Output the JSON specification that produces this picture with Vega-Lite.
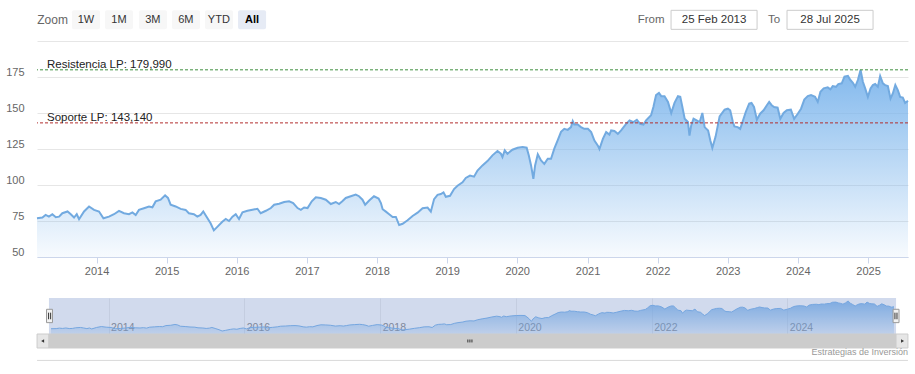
{
"$schema": "https://vega.github.io/schema/vega-lite/v6.json",
"padding": {"left": 5, "top": 9, "right": 8, "bottom": 0},
"background": "white",
"bounds": "flush",
"spacing": 41,
"resolve": {"scale": {"x": "independent", "y": "independent"}},
"config": {"view": {"stroke": null}, "font": "Liberation Sans"},
"datasets": {"prices": [
{"date":"2013-02-25","close":76.9},{"date":"2013-03-25","close":77.4},{"date":"2013-04-11","close":79.2},{"date":"2013-04-28","close":78.0},{"date":"2013-05-16","close":79.7},{"date":"2013-06-03","close":77.6},{"date":"2013-06-20","close":78.0},{"date":"2013-07-07","close":80.4},{"date":"2013-08-03","close":81.6},{"date":"2013-08-20","close":79.7},{"date":"2013-09-06","close":77.4},{"date":"2013-09-20","close":79.7},{"date":"2013-10-02","close":76.2},{"date":"2013-10-28","close":81.6},{"date":"2013-11-23","close":85.1},{"date":"2013-12-19","close":82.7},
{"date":"2014-01-14","close":81.6},{"date":"2014-02-06","close":76.9},{"date":"2014-03-07","close":78.0},{"date":"2014-04-02","close":79.7},{"date":"2014-04-28","close":82.0},{"date":"2014-05-24","close":80.4},{"date":"2014-06-19","close":79.7},{"date":"2014-07-07","close":81.0},{"date":"2014-07-24","close":79.2},{"date":"2014-08-10","close":82.7},{"date":"2014-09-05","close":83.9},{"date":"2014-10-01","close":85.1},{"date":"2014-10-19","close":84.5},{"date":"2014-11-05","close":88.6},{"date":"2014-12-01","close":89.8},{"date":"2014-12-24","close":92.8},
{"date":"2015-01-08","close":91.0},{"date":"2015-01-22","close":86.3},{"date":"2015-02-17","close":85.1},{"date":"2015-03-15","close":83.4},{"date":"2015-04-10","close":82.7},{"date":"2015-04-27","close":80.4},{"date":"2015-05-23","close":79.7},{"date":"2015-06-10","close":78.0},{"date":"2015-06-27","close":79.2},{"date":"2015-07-11","close":81.6},{"date":"2015-07-28","close":78.0},{"date":"2015-08-18","close":73.4},{"date":"2015-09-04","close":68.5},{"date":"2015-09-22","close":70.9},{"date":"2015-10-18","close":74.5},{"date":"2015-11-05","close":76.4},{"date":"2015-11-22","close":75.0},{"date":"2015-12-10","close":78.0},{"date":"2015-12-27","close":79.7},
{"date":"2016-01-13","close":76.4},{"date":"2016-01-31","close":81.1},{"date":"2016-02-26","close":82.1},{"date":"2016-03-23","close":82.8},{"date":"2016-04-18","close":83.5},{"date":"2016-05-05","close":80.4},{"date":"2016-06-01","close":82.1},{"date":"2016-06-27","close":84.0},{"date":"2016-07-14","close":86.3},{"date":"2016-08-09","close":87.0},{"date":"2016-09-04","close":88.2},{"date":"2016-09-30","close":88.7},{"date":"2016-10-21","close":87.5},{"date":"2016-11-13","close":84.0},{"date":"2016-11-30","close":82.8},{"date":"2016-12-17","close":84.4},
{"date":"2017-01-04","close":84.0},{"date":"2017-01-26","close":88.7},{"date":"2017-02-16","close":91.5},{"date":"2017-03-14","close":91.0},{"date":"2017-04-09","close":89.8},{"date":"2017-05-05","close":86.8},{"date":"2017-05-31","close":88.2},{"date":"2017-06-17","close":86.8},{"date":"2017-07-04","close":88.7},{"date":"2017-07-22","close":91.0},{"date":"2017-08-17","close":92.2},{"date":"2017-09-12","close":93.4},{"date":"2017-09-29","close":92.2},{"date":"2017-10-17","close":89.8},{"date":"2017-10-31","close":86.3},{"date":"2017-11-21","close":89.2},{"date":"2017-12-16","close":92.2},
{"date":"2018-01-09","close":90.6},{"date":"2018-01-21","close":87.5},{"date":"2018-01-30","close":83.2},{"date":"2018-02-16","close":81.5},{"date":"2018-03-05","close":79.7},{"date":"2018-03-23","close":77.8},{"date":"2018-04-09","close":77.8},{"date":"2018-04-26","close":72.2},{"date":"2018-05-14","close":73.1},{"date":"2018-06-09","close":75.5},{"date":"2018-07-05","close":78.5},{"date":"2018-07-31","close":80.8},{"date":"2018-08-26","close":83.9},{"date":"2018-09-21","close":84.3},{"date":"2018-10-08","close":81.5},{"date":"2018-10-25","close":90.2},{"date":"2018-11-12","close":93.2},{"date":"2018-11-29","close":93.7},{"date":"2018-12-13","close":94.9},{"date":"2018-12-25","close":91.8},
{"date":"2019-01-16","close":92.5},{"date":"2019-02-06","close":97.2},{"date":"2019-02-24","close":99.5},{"date":"2019-03-22","close":101.9},{"date":"2019-04-08","close":104.9},{"date":"2019-04-30","close":106.5},{"date":"2019-05-21","close":105.8},{"date":"2019-06-08","close":110.0},{"date":"2019-07-04","close":113.6},{"date":"2019-07-30","close":116.6},{"date":"2019-08-25","close":120.6},{"date":"2019-09-20","close":123.6},{"date":"2019-10-08","close":121.7},{"date":"2019-10-16","close":119.4},{"date":"2019-10-28","close":124.1},{"date":"2019-11-11","close":121.7},{"date":"2019-12-07","close":124.5},
{"date":"2020-01-03","close":125.9},{"date":"2020-01-29","close":126.4},{"date":"2020-02-19","close":125.9},{"date":"2020-03-01","close":120.6},{"date":"2020-03-13","close":113.6},{"date":"2020-03-25","close":104.2},{"date":"2020-04-03","close":113.6},{"date":"2020-04-17","close":121.3},{"date":"2020-05-04","close":117.1},{"date":"2020-05-21","close":114.7},{"date":"2020-06-08","close":118.2},{"date":"2020-06-25","close":118.2},{"date":"2020-07-12","close":125.2},{"date":"2020-07-30","close":131.1},{"date":"2020-08-16","close":136.9},{"date":"2020-09-02","close":139.0},{"date":"2020-09-20","close":138.3},{"date":"2020-10-07","close":140.2},{"date":"2020-10-16","close":144.4},{"date":"2020-10-24","close":142.0},{"date":"2020-11-11","close":142.0},{"date":"2020-11-28","close":140.2},{"date":"2020-12-15","close":139.0},
{"date":"2021-01-03","close":139.0},{"date":"2021-01-20","close":136.7},{"date":"2021-02-06","close":130.8},{"date":"2021-02-24","close":127.3},{"date":"2021-03-04","close":125.0},{"date":"2021-03-22","close":132.0},{"date":"2021-04-08","close":136.7},{"date":"2021-04-25","close":135.0},{"date":"2021-05-04","close":137.9},{"date":"2021-05-21","close":137.5},{"date":"2021-06-08","close":135.5},{"date":"2021-06-25","close":137.9},{"date":"2021-07-21","close":142.5},{"date":"2021-08-08","close":144.9},{"date":"2021-08-28","close":143.7},{"date":"2021-09-15","close":145.3},{"date":"2021-10-02","close":142.5},{"date":"2021-10-19","close":142.0},{"date":"2021-11-02","close":144.9},{"date":"2021-11-28","close":148.4},{"date":"2021-12-10","close":154.2},{"date":"2021-12-24","close":162.4},
{"date":"2022-01-08","close":164.0},{"date":"2022-01-20","close":161.7},{"date":"2022-02-06","close":161.7},{"date":"2022-02-24","close":157.7},{"date":"2022-03-13","close":150.0},{"date":"2022-03-30","close":157.0},{"date":"2022-04-17","close":161.7},{"date":"2022-04-29","close":161.2},{"date":"2022-05-10","close":154.2},{"date":"2022-05-22","close":146.0},{"date":"2022-06-08","close":143.7},{"date":"2022-06-16","close":134.3},{"date":"2022-06-25","close":141.4},{"date":"2022-07-07","close":146.0},{"date":"2022-07-21","close":145.0},{"date":"2022-08-08","close":143.7},{"date":"2022-08-22","close":150.0},{"date":"2022-09-03","close":140.2},{"date":"2022-09-21","close":137.9},{"date":"2022-10-03","close":130.8},{"date":"2022-10-13","close":125.7},{"date":"2022-10-30","close":133.6},{"date":"2022-11-20","close":147.7},{"date":"2022-12-16","close":152.3},
{"date":"2023-01-02","close":153.0},{"date":"2023-01-14","close":151.9},{"date":"2023-01-28","close":143.7},{"date":"2023-02-05","close":140.7},{"date":"2023-02-22","close":140.2},{"date":"2023-03-07","close":139.0},{"date":"2023-03-19","close":143.7},{"date":"2023-04-05","close":150.7},{"date":"2023-04-23","close":156.5},{"date":"2023-05-05","close":157.0},{"date":"2023-05-18","close":154.2},{"date":"2023-06-02","close":145.3},{"date":"2023-06-19","close":149.5},{"date":"2023-07-07","close":151.9},{"date":"2023-07-24","close":155.4},{"date":"2023-08-05","close":157.7},{"date":"2023-08-18","close":155.4},{"date":"2023-08-31","close":154.2},{"date":"2023-09-18","close":153.7},{"date":"2023-10-02","close":146.0},{"date":"2023-10-19","close":150.0},{"date":"2023-11-05","close":151.9},{"date":"2023-11-26","close":152.3},{"date":"2023-12-13","close":146.0},
{"date":"2024-01-01","close":149.5},{"date":"2024-01-18","close":153.0},{"date":"2024-02-04","close":159.3},{"date":"2024-02-22","close":161.7},{"date":"2024-03-10","close":162.4},{"date":"2024-03-31","close":161.2},{"date":"2024-04-14","close":157.7},{"date":"2024-04-28","close":164.7},{"date":"2024-05-15","close":167.1},{"date":"2024-06-05","close":167.8},{"date":"2024-06-19","close":166.4},{"date":"2024-07-01","close":168.7},{"date":"2024-07-18","close":168.2},{"date":"2024-07-30","close":170.1},{"date":"2024-08-17","close":170.6},{"date":"2024-08-31","close":175.2},{"date":"2024-09-18","close":175.7},{"date":"2024-10-01","close":172.9},{"date":"2024-10-14","close":171.0},{"date":"2024-10-26","close":168.2},{"date":"2024-11-09","close":172.9},{"date":"2024-11-23","close":179.9},{"date":"2024-12-05","close":171.7},{"date":"2024-12-17","close":167.1},{"date":"2024-12-31","close":161.2},
{"date":"2025-01-14","close":167.1},{"date":"2025-01-26","close":169.4},{"date":"2025-02-07","close":170.1},{"date":"2025-02-21","close":168.2},{"date":"2025-03-05","close":175.7},{"date":"2025-03-19","close":170.6},{"date":"2025-03-31","close":169.4},{"date":"2025-04-14","close":168.7},{"date":"2025-04-28","close":160.0},{"date":"2025-05-10","close":163.6},{"date":"2025-05-23","close":169.4},{"date":"2025-06-05","close":165.9},{"date":"2025-06-17","close":161.2},{"date":"2025-07-01","close":160.7},{"date":"2025-07-13","close":157.0},{"date":"2025-07-28","close":158.4}
]},
"vconcat": [
{
 "width": 871, "height": 216,
 "layer": [
  {"data": {"name": "prices"},
   "layer": [
    {"mark": {"type": "area", "interpolate": "linear", "fill": {"gradient": "linear", "x1": 0, "y1": 0, "x2": 0, "y2": 1, "stops": [{"offset": 0, "color": "rgba(124,181,236,0.95)"}, {"offset": 1, "color": "rgba(124,181,236,0.06)"}]}},
     "encoding": {
      "x": {"field": "date", "type": "temporal", "title": null, "scale": {"domain": [{"year": 2013, "month": 2, "date": 25, "utc": true}, {"year": 2025, "month": 7, "date": 28, "utc": true}], "nice": false},
            "axis": {"format": "%Y", "tickCount": {"interval": "year", "step": 1}, "grid": false, "domainColor": "#ccd6eb", "tickColor": "#ccd6eb", "tickSize": 6, "labelPadding": 2, "labelColor": "#666666", "labelFontSize": 11, "labelFlush": false, "labelOverlap": false}},
      "y": {"field": "close", "type": "quantitative", "title": null, "scale": {"domain": [50, 200], "nice": false, "zero": false},
            "axis": {"values": [50, 75, 100, 125, 150, 175, 200], "labelExpr": "datum.value == 200 ? '' : datum.label", "grid": true, "gridColor": "#e6e6e6", "domain": false, "ticks": false, "labelPadding": 13, "labelColor": "#666666", "labelFontSize": 11, "labelBaseline": "alphabetic", "labelOffset": -2, "labelOverlap": false, "labelFlush": false}},
      "y2": {"datum": 50}
     }},
    {"mark": {"type": "line", "color": "#72aae0", "strokeWidth": 2, "interpolate": "linear"},
     "encoding": {"x": {"field": "date", "type": "temporal", "title": null}, "y": {"field": "close", "type": "quantitative", "title": null,
            "axis": {"values": [50, 75, 100, 125, 150, 175, 200], "labelExpr": "datum.value == 200 ? '' : datum.label", "grid": true, "gridColor": "#e6e6e6", "domain": false, "ticks": false, "labelPadding": 13, "labelColor": "#666666", "labelFontSize": 11, "labelBaseline": "alphabetic", "labelOffset": -2, "labelOverlap": false, "labelFlush": false}}}}
   ]},
  {"data": {"values": [{"lvl": 179.99, "lab": "Resistencia LP: 179,990", "kind": "R"}, {"lvl": 143.14, "lab": "Soporte LP: 143,140", "kind": "S"}]},
   "layer": [
    {"mark": {"type": "rule", "strokeDash": [3, 2], "strokeWidth": 1},
     "encoding": {"y": {"field": "lvl", "type": "quantitative", "title": null,
            "axis": {"values": [50, 75, 100, 125, 150, 175, 200], "labelExpr": "datum.value == 200 ? '' : datum.label", "grid": true, "gridColor": "#e6e6e6", "domain": false, "ticks": false, "labelPadding": 13, "labelColor": "#666666", "labelFontSize": 11, "labelBaseline": "alphabetic", "labelOffset": -2, "labelOverlap": false, "labelFlush": false}},
                  "color": {"field": "kind", "type": "nominal", "scale": {"domain": ["R", "S"], "range": ["#3f8f3f", "#b22d2d"]}, "legend": null}}},
    {"mark": {"type": "text", "align": "left", "baseline": "alphabetic", "dy": -1.8, "fontSize": 11.5, "color": "#222222"},
     "encoding": {"x": {"datum": {"year": 2013, "month": 4, "date": 18, "utc": true}, "type": "temporal", "title": null},
                  "y": {"field": "lvl", "type": "quantitative", "title": null,
            "axis": {"values": [50, 75, 100, 125, 150, 175, 200], "labelExpr": "datum.value == 200 ? '' : datum.label", "grid": true, "gridColor": "#e6e6e6", "domain": false, "ticks": false, "labelPadding": 13, "labelColor": "#666666", "labelFontSize": 11, "labelBaseline": "alphabetic", "labelOffset": -2, "labelOverlap": false, "labelFlush": false}},
                  "text": {"field": "lab"}}}
   ]},
  {"data": {"values": [{}]},
   "encoding": {"y": {"datum": 214.9, "type": "quantitative", "title": null,
            "axis": {"values": [50, 75, 100, 125, 150, 175, 200], "labelExpr": "datum.value == 200 ? '' : datum.label", "grid": true, "gridColor": "#e6e6e6", "domain": false, "ticks": false, "labelPadding": 13, "labelColor": "#666666", "labelFontSize": 11, "labelBaseline": "alphabetic", "labelOffset": -2, "labelOverlap": false, "labelFlush": false}}},
   "layer": [
    {"mark": {"type": "text", "text": "Zoom", "fontSize": 12, "color": "#666666"},
     "encoding": {"x": {"datum": {"year": 2013, "month": 5, "date": 17, "utc": true}, "type": "temporal", "title": null}}},
    {"mark": {"type": "rect", "fill": "#f7f7f7", "cornerRadius": 2},
     "encoding": {"x": {"datum": {"year": 2013, "month": 8, "date": 26, "utc": true}, "type": "temporal", "title": null}, "x2": {"datum": {"year": 2014, "month": 1, "date": 19, "utc": true}}, "y": {"datum": 221.3, "type": "quantitative", "title": null}, "y2": {"datum": 208.1}}},
    {"mark": {"type": "text", "text": "1W", "fontSize": 11, "color": "#333333"},
     "encoding": {"x": {"datum": {"year": 2013, "month": 11, "date": 7, "utc": true}, "type": "temporal", "title": null}}},
    {"mark": {"type": "rect", "fill": "#f7f7f7", "cornerRadius": 2},
     "encoding": {"x": {"datum": {"year": 2014, "month": 2, "date": 14, "utc": true}, "type": "temporal", "title": null}, "x2": {"datum": {"year": 2014, "month": 7, "date": 10, "utc": true}}, "y": {"datum": 221.3, "type": "quantitative", "title": null}, "y2": {"datum": 208.1}}},
    {"mark": {"type": "text", "text": "1M", "fontSize": 11, "color": "#333333"},
     "encoding": {"x": {"datum": {"year": 2014, "month": 4, "date": 28, "utc": true}, "type": "temporal", "title": null}}},
    {"mark": {"type": "rect", "fill": "#f7f7f7", "cornerRadius": 2},
     "encoding": {"x": {"datum": {"year": 2014, "month": 8, "date": 10, "utc": true}, "type": "temporal", "title": null}, "x2": {"datum": {"year": 2015, "month": 1, "date": 3, "utc": true}}, "y": {"datum": 221.3, "type": "quantitative", "title": null}, "y2": {"datum": 208.1}}},
    {"mark": {"type": "text", "text": "3M", "fontSize": 11, "color": "#333333"},
     "encoding": {"x": {"datum": {"year": 2014, "month": 10, "date": 21, "utc": true}, "type": "temporal", "title": null}}},
    {"mark": {"type": "rect", "fill": "#f7f7f7", "cornerRadius": 2},
     "encoding": {"x": {"datum": {"year": 2015, "month": 1, "date": 29, "utc": true}, "type": "temporal", "title": null}, "x2": {"datum": {"year": 2015, "month": 6, "date": 24, "utc": true}}, "y": {"datum": 221.3, "type": "quantitative", "title": null}, "y2": {"datum": 208.1}}},
    {"mark": {"type": "text", "text": "6M", "fontSize": 11, "color": "#333333"},
     "encoding": {"x": {"datum": {"year": 2015, "month": 4, "date": 11, "utc": true}, "type": "temporal", "title": null}}},
    {"mark": {"type": "rect", "fill": "#f7f7f7", "cornerRadius": 2},
     "encoding": {"x": {"datum": {"year": 2015, "month": 7, "date": 20, "utc": true}, "type": "temporal", "title": null}, "x2": {"datum": {"year": 2015, "month": 12, "date": 13, "utc": true}}, "y": {"datum": 221.3, "type": "quantitative", "title": null}, "y2": {"datum": 208.1}}},
    {"mark": {"type": "text", "text": "YTD", "fontSize": 11, "color": "#333333"},
     "encoding": {"x": {"datum": {"year": 2015, "month": 9, "date": 30, "utc": true}, "type": "temporal", "title": null}}},
    {"mark": {"type": "rect", "fill": "#e6ebf5", "cornerRadius": 2},
     "encoding": {"x": {"datum": {"year": 2016, "month": 1, "date": 8, "utc": true}, "type": "temporal", "title": null}, "x2": {"datum": {"year": 2016, "month": 6, "date": 2, "utc": true}}, "y": {"datum": 221.3, "type": "quantitative", "title": null}, "y2": {"datum": 208.1}}},
    {"mark": {"type": "text", "text": "All", "fontSize": 11, "fontWeight": "bold", "color": "#000000"},
     "encoding": {"x": {"datum": {"year": 2016, "month": 3, "date": 21, "utc": true}, "type": "temporal", "title": null}}},
    {"mark": {"type": "text", "text": "From", "fontSize": 11.5, "color": "#666666"},
     "encoding": {"x": {"datum": {"year": 2021, "month": 11, "date": 28, "utc": true}, "type": "temporal", "title": null}}},
    {"mark": {"type": "rect", "fill": "#ffffff", "stroke": "#cccccc", "strokeWidth": 1},
     "encoding": {"x": {"datum": {"year": 2022, "month": 3, "date": 12, "utc": true}, "type": "temporal", "title": null}, "x2": {"datum": {"year": 2023, "month": 6, "date": 3, "utc": true}}, "y": {"datum": 221.3, "type": "quantitative", "title": null}, "y2": {"datum": 208.1}}},
    {"mark": {"type": "text", "text": "25 Feb 2013", "fontSize": 11.5, "color": "#333333"},
     "encoding": {"x": {"datum": {"year": 2022, "month": 10, "date": 22, "utc": true}, "type": "temporal", "title": null}}},
    {"mark": {"type": "text", "text": "To", "fontSize": 11.5, "color": "#666666"},
     "encoding": {"x": {"datum": {"year": 2023, "month": 8, "date": 30, "utc": true}, "type": "temporal", "title": null}}},
    {"mark": {"type": "rect", "fill": "#ffffff", "stroke": "#cccccc", "strokeWidth": 1},
     "encoding": {"x": {"datum": {"year": 2023, "month": 11, "date": 6, "utc": true}, "type": "temporal", "title": null}, "x2": {"datum": {"year": 2025, "month": 1, "date": 27, "utc": true}}, "y": {"datum": 221.3, "type": "quantitative", "title": null}, "y2": {"datum": 208.1}}},
    {"mark": {"type": "text", "text": "28 Jul 2025", "fontSize": 11.5, "color": "#333333"},
     "encoding": {"x": {"datum": {"year": 2024, "month": 6, "date": 17, "utc": true}, "type": "temporal", "title": null}}}
   ]}
 ]
},
{
 "width": 871, "height": 36,
 "data": {"name": "prices"},
 "layer": [
  {"mark": {"type": "area", "interpolate": "linear", "fill": {"gradient": "linear", "x1": 0, "y1": 0, "x2": 0, "y2": 1, "stops": [{"offset": 0, "color": "rgba(124,181,236,0.9)"}, {"offset": 1, "color": "rgba(124,181,236,0.2)"}]}},
   "encoding": {
    "x": {"field": "date", "type": "temporal", "title": null, "scale": {"domain": [{"year": 2013, "month": 2, "date": 25, "utc": true}, {"year": 2025, "month": 7, "date": 28, "utc": true}], "nice": false, "range": [14, 857]},
          "axis": {"format": "%Y", "tickCount": {"interval": "year", "step": 2}, "grid": true, "gridColor": "#ececec", "domain": false, "ticks": false, "labelAlign": "left", "labelOffset": 2, "labelPadding": -7, "labelBaseline": "middle", "labelColor": "#8a8a8a", "labelFontSize": 10.5, "labelFlush": false, "labelOverlap": false}},
    "y": {"field": "close", "type": "quantitative", "title": null, "axis": null, "scale": {"domain": [57.4, 191], "nice": false, "zero": false}},
    "y2": {"datum": 57.4}
   }},
  {"mark": {"type": "line", "color": "#7cb5ec", "strokeWidth": 1, "interpolate": "linear"},
   "encoding": {"x": {"field": "date", "type": "temporal", "title": null}, "y": {"field": "close", "type": "quantitative", "axis": null, "title": null}}},
  {"data": {"values": [{}]}, "mark": {"type": "rect", "fill": "rgba(102,133,194,0.3)"},
   "encoding": {"x": {"datum": {"year": 2013, "month": 2, "date": 14, "utc": true}, "type": "temporal", "title": null}, "x2": {"datum": {"year": 2025, "month": 8, "date": 8, "utc": true}}, "y": {"datum": 57.4, "type": "quantitative", "axis": null, "title": null}, "y2": {"datum": 191}}},
  {"data": {"values": [{}]}, "mark": {"type": "rect", "fill": "#e6e6e6", "stroke": "#cccccc", "strokeWidth": 1},
   "encoding": {"x": {"datum": {"year": 2012, "month": 12, "date": 12, "utc": true}, "type": "temporal", "title": null}, "x2": {"datum": {"year": 2013, "month": 2, "date": 14, "utc": true}}, "y": {"datum": 57.4, "type": "quantitative", "axis": null, "title": null}, "y2": {"datum": 5.5}}},
  {"data": {"values": [{}]}, "mark": {"type": "rect", "fill": "#cccccc", "stroke": "#cccccc", "strokeWidth": 1},
   "encoding": {"x": {"datum": {"year": 2013, "month": 2, "date": 14, "utc": true}, "type": "temporal", "title": null}, "x2": {"datum": {"year": 2025, "month": 8, "date": 8, "utc": true}}, "y": {"datum": 57.4, "type": "quantitative", "axis": null, "title": null}, "y2": {"datum": 5.5}}},
  {"data": {"values": [{}]}, "mark": {"type": "rect", "fill": "#e6e6e6", "stroke": "#cccccc", "strokeWidth": 1},
   "encoding": {"x": {"datum": {"year": 2025, "month": 8, "date": 8, "utc": true}, "type": "temporal", "title": null}, "x2": {"datum": {"year": 2025, "month": 10, "date": 11, "utc": true}}, "y": {"datum": 57.4, "type": "quantitative", "axis": null, "title": null}, "y2": {"datum": 5.5}}},
  {"data": {"values": [{}]}, "mark": {"type": "point", "shape": "triangle-left", "filled": true, "size": 12, "color": "#333333", "opacity": 1},
   "encoding": {"x": {"datum": {"year": 2013, "month": 1, "date": 11, "utc": true}, "type": "temporal", "title": null}, "y": {"datum": 31.7, "type": "quantitative", "axis": null, "title": null}}},
  {"data": {"values": [{}]}, "mark": {"type": "point", "shape": "triangle-right", "filled": true, "size": 12, "color": "#333333", "opacity": 1},
   "encoding": {"x": {"datum": {"year": 2025, "month": 9, "date": 12, "utc": true}, "type": "temporal", "title": null}, "y": {"datum": 31.7, "type": "quantitative", "axis": null, "title": null}}},
  {"data": {"values": [{}]}, "mark": {"type": "rule", "color": "#333333", "strokeWidth": 1},
   "encoding": {"x": {"datum": {"year": 2019, "month": 4, "date": 18, "utc": true}, "type": "temporal", "title": null}, "y": {"datum": 37, "type": "quantitative", "axis": null, "title": null}, "y2": {"datum": 26}}},
  {"data": {"values": [{}]}, "mark": {"type": "rule", "color": "#333333", "strokeWidth": 1},
   "encoding": {"x": {"datum": {"year": 2019, "month": 4, "date": 29, "utc": true}, "type": "temporal", "title": null}, "y": {"datum": 37, "type": "quantitative", "axis": null, "title": null}, "y2": {"datum": 26}}},
  {"data": {"values": [{}]}, "mark": {"type": "rule", "color": "#333333", "strokeWidth": 1},
   "encoding": {"x": {"datum": {"year": 2019, "month": 5, "date": 10, "utc": true}, "type": "temporal", "title": null}, "y": {"datum": 37, "type": "quantitative", "axis": null, "title": null}, "y2": {"datum": 26}}},
  {"data": {"values": [{}]}, "mark": {"type": "rect", "fill": "#f2f2f2", "stroke": "#999999", "strokeWidth": 1},
   "encoding": {"x": {"datum": {"year": 2013, "month": 2, "date": 1, "utc": true}, "type": "temporal", "title": null}, "x2": {"datum": {"year": 2013, "month": 3, "date": 5, "utc": true}}, "y": {"datum": 99.5, "type": "quantitative", "axis": null, "title": null}, "y2": {"datum": 149.1}}},
  {"data": {"values": [{}]}, "mark": {"type": "rect", "fill": "#f2f2f2", "stroke": "#999999", "strokeWidth": 1},
   "encoding": {"x": {"datum": {"year": 2025, "month": 7, "date": 23, "utc": true}, "type": "temporal", "title": null}, "x2": {"datum": {"year": 2025, "month": 8, "date": 24, "utc": true}}, "y": {"datum": 99.5, "type": "quantitative", "axis": null, "title": null}, "y2": {"datum": 149.1}}},
  {"data": {"values": [{}]}, "mark": {"type": "rule", "color": "#333333", "strokeWidth": 1},
   "encoding": {"x": {"datum": {"year": 2013, "month": 2, "date": 12, "utc": true}, "type": "temporal", "title": null}, "y": {"datum": 136.5, "type": "quantitative", "axis": null, "title": null}, "y2": {"datum": 112.1}}},
  {"data": {"values": [{}]}, "mark": {"type": "rule", "color": "#333333", "strokeWidth": 1},
   "encoding": {"x": {"datum": {"year": 2013, "month": 2, "date": 23, "utc": true}, "type": "temporal", "title": null}, "y": {"datum": 136.5, "type": "quantitative", "axis": null, "title": null}, "y2": {"datum": 112.1}}},
  {"data": {"values": [{}]}, "mark": {"type": "rule", "color": "#333333", "strokeWidth": 1},
   "encoding": {"x": {"datum": {"year": 2025, "month": 8, "date": 2, "utc": true}, "type": "temporal", "title": null}, "y": {"datum": 136.5, "type": "quantitative", "axis": null, "title": null}, "y2": {"datum": 112.1}}},
  {"data": {"values": [{}]}, "mark": {"type": "rule", "color": "#333333", "strokeWidth": 1},
   "encoding": {"x": {"datum": {"year": 2025, "month": 8, "date": 13, "utc": true}, "type": "temporal", "title": null}, "y": {"datum": 136.5, "type": "quantitative", "axis": null, "title": null}, "y2": {"datum": 112.1}}},
  {"data": {"values": [{}]}, "mark": {"type": "text", "text": "Estrategias de Inversión", "align": "right", "fontSize": 9, "color": "#999999"},
   "encoding": {"x": {"datum": {"year": 2025, "month": 10, "date": 11, "utc": true}, "type": "temporal", "title": null}, "y": {"datum": -11, "type": "quantitative", "axis": null, "title": null}}},
  {"data": {"values": [{}]}, "mark": {"type": "rule", "color": "#d9d9d9", "strokeWidth": 1},
   "encoding": {"x": {"datum": {"year": 2012, "month": 12, "date": 12, "utc": true}, "type": "temporal", "title": null}, "x2": {"datum": {"year": 2025, "month": 10, "date": 11, "utc": true}}, "y": {"datum": -40.6, "type": "quantitative", "axis": null, "title": null}}}
 ]
}
]
}
